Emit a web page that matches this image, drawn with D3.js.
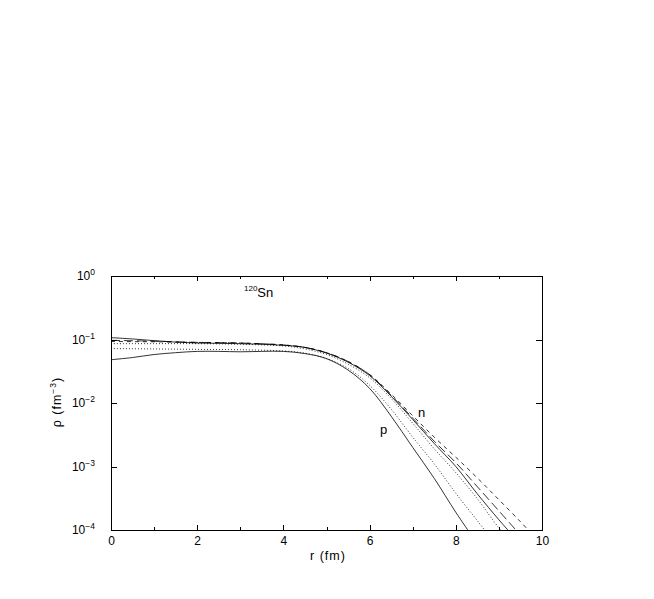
<!DOCTYPE html>
<html>
<head>
<meta charset="utf-8">
<script src="https://cdn.jsdelivr.net/npm/d3@7"></script>
<style>
  html, body { margin: 0; padding: 0; background: #fff; }
  svg { display: block; }
  text { font-family: "Liberation Sans", Arial, Helvetica, sans-serif; fill: #000; }
</style>
</head>
<body>
<svg id="chart" width="654" height="599"></svg>
<script>
// ---- data ----
const xTicksMajor = [0, 2, 4, 6, 8, 10];
const xTicksMinor = [1, 3, 5, 7, 9];
const yTickExps = [0, -1, -2, -3, -4];

// neutron densities
const nSolid = [
  [0, 0.107], [0.5, 0.102], [1, 0.096], [1.5, 0.091], [2, 0.088], [2.5, 0.087], [3, 0.086],
  [3.5, 0.084], [4, 0.081], [4.5, 0.075], [5, 0.061], [5.5, 0.044], [6, 0.027], [6.5, 0.0128],
  [7, 0.0055], [7.5, 0.0023], [8, 0.00100], [8.5, 0.00037], [9, 0.000145], [9.3, 0.000085]
];
const nLongDash = [
  [0, 0.097], [1, 0.094], [2, 0.090], [3, 0.088], [4, 0.082], [4.5, 0.075], [5, 0.062],
  [5.5, 0.045], [6, 0.028], [6.5, 0.0132], [7, 0.0058], [7.5, 0.0025], [8, 0.00115],
  [8.5, 0.00048], [9, 0.00020], [9.5, 0.000083]
];
const nDashed = [
  [0, 0.093], [1, 0.092], [2, 0.090], [3, 0.088], [4, 0.082], [4.5, 0.075], [5, 0.062],
  [5.5, 0.045], [6, 0.028], [6.5, 0.0138], [7, 0.0063], [7.5, 0.0029], [8, 0.0014],
  [8.5, 0.00066], [9, 0.00030], [9.5, 0.000135], [9.8, 0.000082]
];
const nDotted = [
  [0, 0.086], [1, 0.086], [2, 0.086], [3, 0.084], [4, 0.079], [4.5, 0.071], [5, 0.058],
  [5.5, 0.041], [6, 0.025], [6.5, 0.0118], [7, 0.0048], [7.5, 0.0019], [8, 0.00080],
  [8.5, 0.00031], [9, 0.000108], [9.15, 0.000085]
];
// proton densities
const pSolid = [
  [0, 0.048], [0.5, 0.052], [1, 0.058], [1.5, 0.062], [2, 0.065], [2.5, 0.065], [3, 0.064],
  [3.5, 0.065], [4, 0.065], [4.5, 0.060], [5, 0.050], [5.5, 0.033], [6, 0.017], [6.5, 0.0062],
  [7, 0.0020], [7.5, 0.00065], [8, 0.00019], [8.35, 0.000085]
];
const pDotted = [
  [0, 0.072], [1, 0.071], [2, 0.070], [3, 0.069], [4, 0.066], [4.5, 0.061], [5, 0.050],
  [5.5, 0.035], [6, 0.019], [6.5, 0.0080], [7, 0.0029], [7.5, 0.0011], [8, 0.00038],
  [8.5, 0.00014], [8.75, 0.000085]
];

const seriesList = [
  { name: "n solid", values: nSolid, dash: null },
  { name: "n long dash", values: nLongDash, dash: "9,4" },
  { name: "n dashed", values: nDashed, dash: "4,4" },
  { name: "n dotted", values: nDotted, dash: "1,2" },
  { name: "p solid", values: pSolid, dash: null },
  { name: "p dotted", values: pDotted, dash: "1,2" }
];

// ---- layout ----
const svg = d3.select("#chart");
const pL = 111, pR = 542, pT = 276, pB = 530;

const x = d3.scaleLinear().domain([0, 10]).range([pL, pR]);
const y = d3.scaleLog().domain([1e-4, 1]).range([pB, pT]);

svg.append("defs").append("clipPath").attr("id", "plotclip")
  .append("rect").attr("x", pL).attr("y", pT).attr("width", pR - pL).attr("height", pB - pT);

// frame
svg.append("rect")
  .attr("x", pL).attr("y", pT).attr("width", pR - pL).attr("height", pB - pT)
  .attr("fill", "none").attr("stroke", "#000").attr("stroke-width", 1).attr("shape-rendering", "crispEdges");

// axes via d3 (ticks inward)
const axBottom = svg.append("g").attr("transform", `translate(0,${pB})`)
  .call(d3.axisBottom(x).tickValues(xTicksMajor).tickSize(-5).tickFormat(d3.format("d")).tickPadding(6));
svg.append("g").attr("transform", `translate(0,${pB})`)
  .call(d3.axisBottom(x).tickValues(xTicksMinor).tickSize(-3).tickFormat(""));
svg.append("g").attr("transform", `translate(0,${pT})`)
  .call(d3.axisTop(x).tickValues(xTicksMajor).tickSize(-5).tickFormat(""));
svg.append("g").attr("transform", `translate(0,${pT})`)
  .call(d3.axisTop(x).tickValues(xTicksMinor).tickSize(-3).tickFormat(""));
const yVals = yTickExps.map(e => Math.pow(10, e));
svg.append("g").attr("transform", `translate(${pL},0)`)
  .call(d3.axisLeft(y).tickValues(yVals).tickSize(-6).tickFormat(""));
svg.append("g").attr("transform", `translate(${pR},0)`)
  .call(d3.axisRight(y).tickValues(yVals).tickSize(-6).tickFormat(""));

svg.selectAll(".domain").remove();
svg.selectAll(".tick line").attr("stroke", "#000").attr("stroke-width", 1).attr("shape-rendering", "crispEdges");
axBottom.selectAll(".tick text")
  .attr("font-size", 12).attr("font-family", "Liberation Sans, Arial, sans-serif").attr("fill", "#000")
  .attr("dy", "0.71em");

// y tick labels as 10^n
const yLab = svg.append("g");
yTickExps.forEach(e => {
  const t = yLab.append("text")
    .attr("x", 95).attr("y", y(Math.pow(10, e)) + 4)
    .attr("text-anchor", "end").attr("font-size", 12);
  t.append("tspan").text("10");
  t.append("tspan").attr("dy", -5).attr("font-size", 8.5).text(e === 0 ? "0" : "\u2212" + Math.abs(e));
});

// curves
const line = d3.line()
  .x(d => x(d[0]))
  .y(d => y(d[1]))
  .curve(d3.curveCatmullRom.alpha(0.5));

svg.append("g").attr("clip-path", "url(#plotclip)")
  .selectAll("path").data(seriesList).join("path")
  .attr("d", d => line(d.values))
  .attr("fill", "none")
  .attr("stroke", "#000")
  .attr("stroke-width", 0.8)
  .attr("stroke-dasharray", d => d.dash);

// annotations
const iso = svg.append("text").attr("x", 244).attr("y", 297).attr("font-size", 13);
iso.append("tspan").attr("font-size", 8).attr("dy", -6).text("120");
iso.append("tspan").attr("dy", 6).text("Sn");

svg.append("text").attr("x", 418).attr("y", 417).attr("font-size", 13).text("n");
svg.append("text").attr("x", 380).attr("y", 434).attr("font-size", 13).text("p");

// axis titles
svg.append("text").attr("x", 328).attr("y", 560).attr("text-anchor", "middle")
  .attr("font-size", 12.5).attr("letter-spacing", 1).text("r (fm)");

const yt = svg.append("text")
  .attr("transform", "translate(61,402) rotate(-90)")
  .attr("text-anchor", "middle").attr("font-size", 12.5).attr("letter-spacing", 1);
yt.append("tspan").text("\u03C1 (fm");
yt.append("tspan").attr("dy", -5).attr("font-size", 8.5).text("\u22123");
yt.append("tspan").attr("dy", 5).text(")");
</script>
</body>
</html>
